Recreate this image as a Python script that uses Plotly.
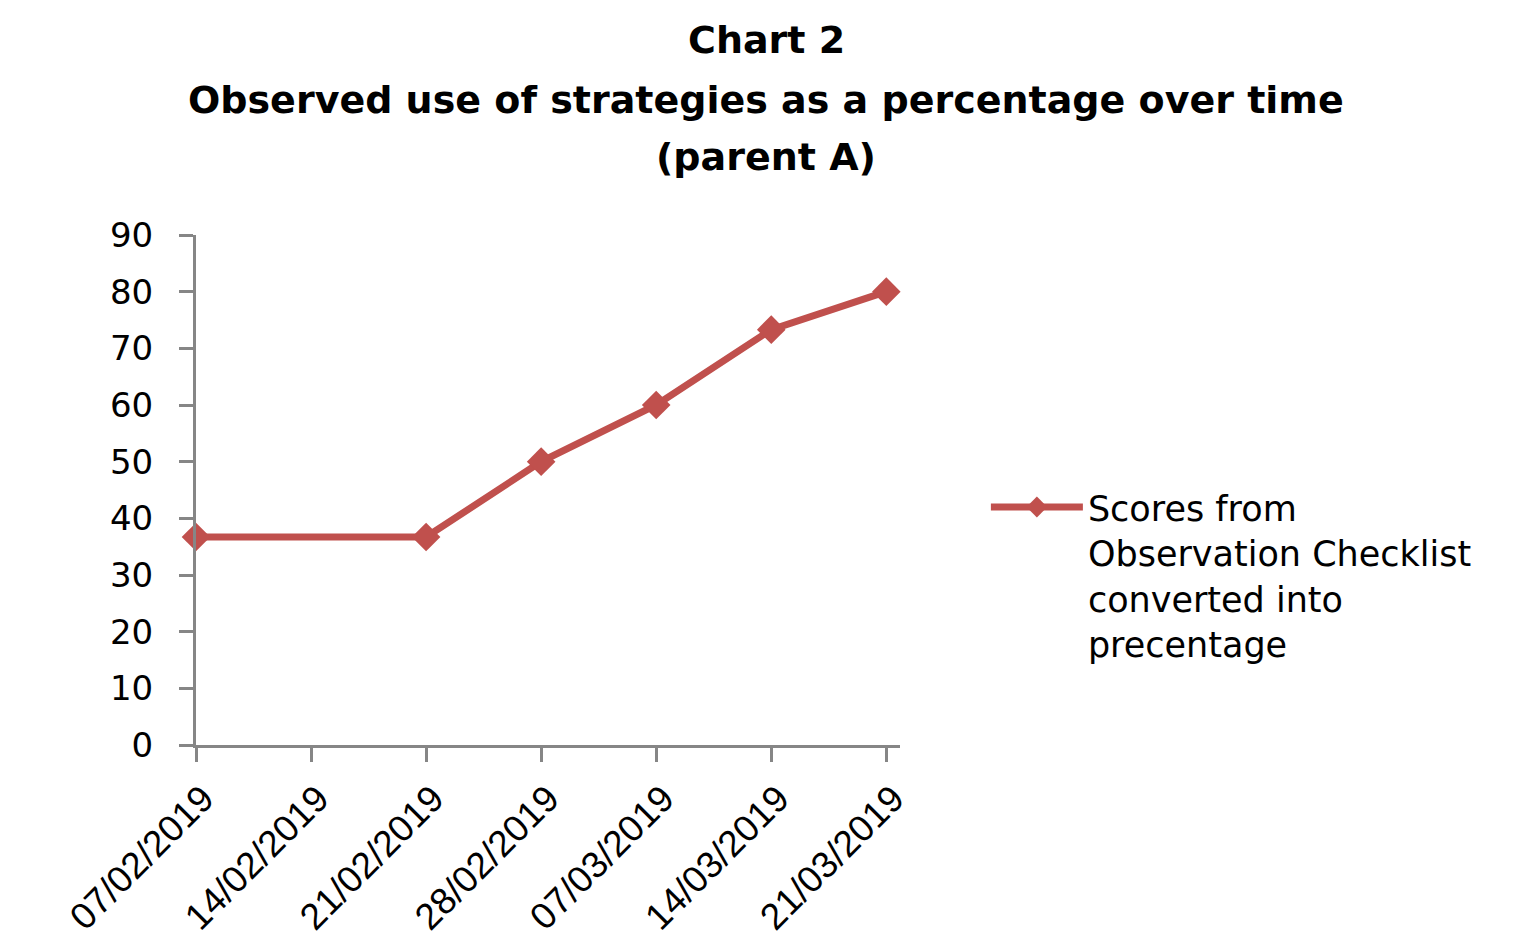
import plotly.graph_objects as go

# Data
dates = ["2019-02-07", "2019-02-21", "2019-02-28", "2019-03-07", "2019-03-14", "2019-03-21"]
scores = [36.7, 36.7, 50, 60, 73.3, 80]
series_name = "Scores from<br>Observation Checklist<br>converted into<br>precentage"
title_lines = ["Chart 2", "Observed use of strategies as a percentage over time", "(parent A)"]

RED = "#C0504D"
AXIS = "#868686"

W, H = 1519, 929   # page body has an 8px offset
ML, MR, MT, MB = 188, 627, 227, 192
PW, PH = W - ML - MR, H - MT - MB

fig = go.Figure()
fig.add_trace(go.Scatter(
    x=dates, y=scores, mode="lines+markers", name=series_name,
    line=dict(color=RED, width=7),
    marker=dict(symbol="diamond", size=22, color=RED),
    cliponaxis=False,
))

# Title lines (centres at page y 40, 100, 157; centre x 766)
title_y = [32, 92, 149]
title_cx = 758
for txt, py in zip(title_lines, title_y):
    fig.add_annotation(
        text=txt, xref="paper", yref="paper",
        x=(title_cx - ML) / PW, y=1 - (py - MT) / PH,
        xanchor="center", yanchor="middle", showarrow=False,
        font=dict(family="DejaVu Sans", size=38, color="black", weight="bold"),
    )

fig.update_layout(
    width=W, height=H,
    paper_bgcolor="white", plot_bgcolor="white",
    margin=dict(l=ML, r=MR, t=MT, b=MB, autoexpand=False),
    showlegend=True,
    legend=dict(x=1.122, y=0.524, xanchor="left", yanchor="top", valign="top",
                font=dict(family="DejaVu Sans", size=35, color="black"),
                itemwidth=92, bgcolor="rgba(0,0,0,0)"),
)

fig.update_xaxes(
    type="date", range=["2019-02-07", "2019-03-21 20:00"],
    tick0="2019-02-07", dtick=7 * 24 * 3600 * 1000, tickformat="%d/%m/%Y",
    tickangle=-45, ticks="outside", ticklen=14, tickwidth=3, tickcolor=AXIS,
    showline=True, linecolor=AXIS, linewidth=3, showgrid=False, zeroline=False,
    automargin=False, ticklabelshift=7,
    tickfont=dict(family="Liberation Sans", size=37, color="black"),
)
fig.update_yaxes(
    range=[0, 90], dtick=10, ticks="outside", ticklen=14, tickwidth=3, tickcolor=AXIS,
    showline=True, linecolor=AXIS, linewidth=3, showgrid=False, zeroline=False,
    ticklabelstandoff=19, automargin=False,
    tickfont=dict(family="DejaVu Sans", size=34, color="black"),
)

fig.write_html("out.html")
